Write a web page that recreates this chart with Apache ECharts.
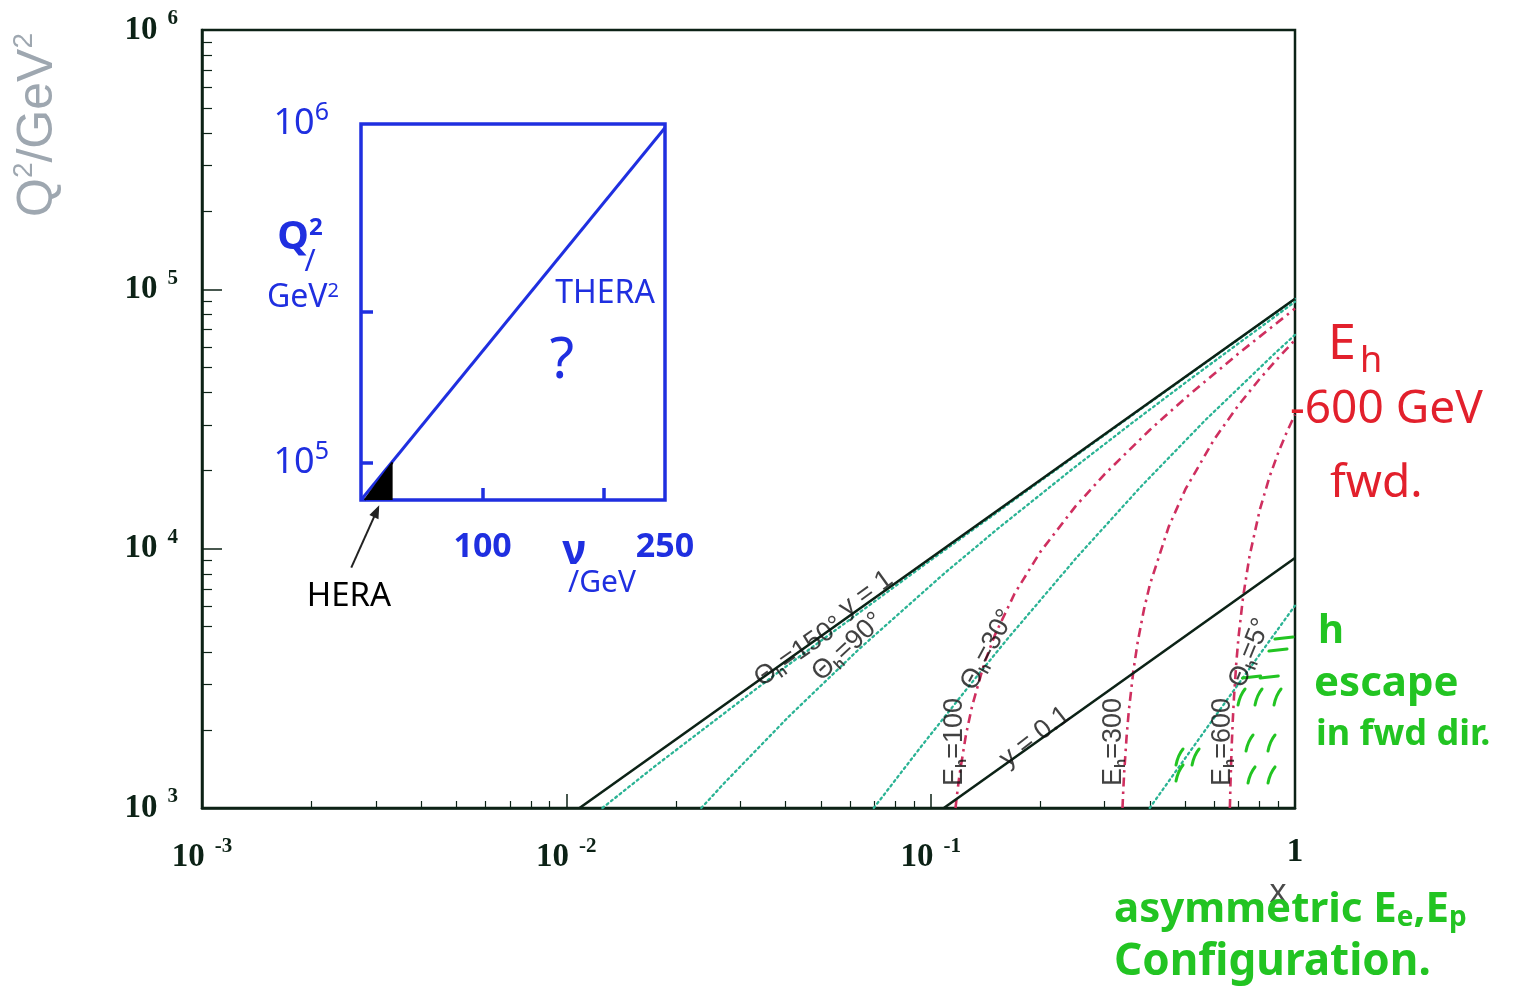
<!DOCTYPE html>
<html><head><meta charset="utf-8">
<script src="https://cdn.jsdelivr.net/npm/echarts@6/dist/echarts.min.js"></script>
<style>html,body{margin:0;padding:0;background:#fff}#c{width:1513px;height:987px}</style>
</head><body><div id="c"></div>
<script>
// ---- tick data ----
const xMajorExps = [-3, -2, -1, 0];
const yMajorExps = [3, 4, 5, 6];
const minorMantissas = [2, 3, 4, 5, 6, 7, 8, 9];

// ---- kinematic lines (x, Q^2/GeV^2) ----
const lineY1  = [[0.01087, 1000], [1, 92000]];
const lineY01 = [[0.1087, 1000], [1, 9200]];

const theta150 = [[0.01256, 1000], [0.01756, 1454], [0.03707, 3240], [0.0956, 8619], [0.1931, 17590], [0.3882, 35540], [0.9735, 89380], [1, 91820]];
const theta90  = [[0.02346, 1000], [0.02717, 1250], [0.04076, 2250], [0.0634, 4083], [0.1087, 8000], [0.154, 12042], [0.2446, 20250], [0.361, 30889], [0.5163, 45120], [1, 89570]];
const theta30  = [[0.0698, 1000], [0.0946, 1741], [0.1262, 2902], [0.1622, 4477], [0.2523, 9285], [0.3785, 17410], [0.5677, 31338], [0.8831, 56873], [1, 66741]];
const theta5   = [[0.3992, 1000], [0.4409, 1217], [0.517, 1665], [0.594, 2186], [0.7503, 3451], [0.9099, 5023], [1, 6031]];

const eh100 = [[0.1170, 1000], [0.118, 1112], [0.12, 1344], [0.125, 1917], [0.13, 2478], [0.14, 3574], [0.15, 4641], [0.17, 6713], [0.2, 9721], [0.25, 14585], [0.3, 19353], [0.4, 28753], [0.5, 38069], [0.7, 56597], [1, 84291]];
const eh300 = [[0.3361, 1000], [0.338, 1192], [0.34, 1391], [0.345, 1889], [0.35, 2385], [0.36, 3375], [0.37, 4360], [0.385, 5832], [0.4, 7296], [0.45, 12133], [0.5, 16920], [0.6, 26396], [0.7, 35790], [0.8, 45133], [0.9, 54444], [1, 63730]];
const eh600 = [[0.6626, 1000], [0.665, 1230], [0.67, 1709], [0.675, 2188], [0.68, 2667], [0.69, 3623], [0.7, 4578], [0.72, 6485], [0.75, 9339], [0.8, 14078], [0.85, 18800], [0.9, 23510], [0.95, 28210], [1, 32890]];

// hand-drawn green hatch strokes (centres, x / Q^2)
const hatchFlat = [[0.9328, 4524], [0.8982, 4068], [0.76, 3200], [0.85, 3200]];
const hatchSlanted = [[0.7155, 2679], [0.7966, 2679], [0.8982, 2679], [0.7526, 1781], [0.8648, 1781],
  [0.7621, 1341], [0.8648, 1341], [0.4835, 1573], [0.5351, 1573], [0.4835, 1365]];

// curve labels: text, position (x, Q^2), angle
const curveLabels = [
  { t: '{a|Θ}{u|h}{a|=150°}', x: 0.0435, q: 4000, r: 35 },
  { t: '{a|y = 1}', x: 0.0665, q: 6700, r: 36 },
  { t: '{a|Θ}{u|h}{a|=90°}', x: 0.0593, q: 4177, r: 43 },
  { t: '{a|E}{u|h}{a|=100}', x: 0.1166, q: 1797, r: 90 },
  { t: '{a|Θ}{u|h}{a|=30°}', x: 0.1437, q: 4068, r: 62 },
  { t: '{a|y = 0.1}', x: 0.1934, q: 1879, r: 38 },
  { t: '{a|E}{u|h}{a|=300}', x: 0.3185, q: 1797, r: 90 },
  { t: '{a|E}{u|h}{a|=600}', x: 0.6344, q: 1797, r: 90 },
  { t: '{a|Θ}{u|h}{a|=5°}', x: 0.7526, q: 3960, r: 68 }
];

// ---- inset (hand-drawn) ----
const insetX = [0, 250];
const insetY = [0, 1000000];
const insetLine = [[0, 0], [250, 990000]];
const heraArea = [[3, 0], [26, 100000]];
const heraArrow = [[-8, -180000, 15, -14000]];
const insetXTicks = [100, 200];
const insetXLabels = [100, 250];
const insetYTicks = [100000, 500000];
const insetYLabels = [100000, 1000000];

const xMinor = [], yMinor = [];
xMajorExps.slice(0, -1).forEach(e => minorMantissas.forEach(m => xMinor.push(+(m * Math.pow(10, e)).toPrecision(3))));
yMajorExps.slice(0, -1).forEach(e => minorMantissas.forEach(m => yMinor.push(+(m * Math.pow(10, e)).toPrecision(3))));

const DARK = '#0c2216';
const BLUE = '#1f2fe0';
const RED = '#e2202c';
const GREEN = '#22c422';
const TEAL = '#2ab394';
const CRIMSON = '#cf2f5f';

const tickRich = {
  b: { fontFamily: 'Liberation Serif', fontWeight: 'bold', fontSize: 33, color: DARK },
  s: { fontFamily: 'Liberation Serif', fontWeight: 'bold', fontSize: 21, color: DARK, padding: [0, 0, 22, 10] }
};
function expLabel(v) {
  const e = Math.round(Math.log10(v));
  return e === 0 ? '{b|1}' : '{b|10}{s|' + e + '}';
}

const chart = echarts.init(document.getElementById('c'), null, { renderer: 'canvas' });
const hwFont = 'Noto Sans';

function thetaSeries(data) {
  return { type: 'line', xAxisIndex: 0, yAxisIndex: 0, data, symbol: 'none', silent: true,
    lineStyle: { color: TEAL, width: 2.3, type: [2, 3.5], cap: 'round' }, z: 3 };
}
function ehSeries(data) {
  return { type: 'line', xAxisIndex: 0, yAxisIndex: 0, data, symbol: 'none', silent: true,
    lineStyle: { color: CRIMSON, width: 2.6, type: [9, 5, 2.5, 5] }, z: 3 };
}

const option = {
  backgroundColor: '#fff',
  animation: false,
  grid: [
    { left: 202, top: 30, width: 1093, height: 778, show: true, borderColor: DARK, borderWidth: 2.5, backgroundColor: 'transparent', outerBoundsMode: 'none', containLabel: false },
    { left: 361, top: 124, width: 304, height: 376, show: true, borderColor: BLUE, borderWidth: 3.5, backgroundColor: 'transparent', outerBoundsMode: 'none', containLabel: false }
  ],
  xAxis: [
    { type: 'log', logBase: 10, gridIndex: 0, min: 0.001, max: 1, position: 'bottom',
      axisLine: { show: true, lineStyle: { color: DARK, width: 2.5 } },
      axisTick: { show: true, inside: true, length: 14, lineStyle: { color: DARK, width: 1.5 } },
      axisLabel: { show: true, margin: 28, formatter: expLabel, rich: tickRich },
      splitLine: { show: false }, minorTick: { show: false } },
    { type: 'log', logBase: 10, gridIndex: 0, min: 0.001, max: 1, position: 'bottom',
      axisLine: { show: false }, axisLabel: { show: false }, splitLine: { show: false },
      axisTick: { show: true, inside: true, length: 7, customValues: xMinor, lineStyle: { color: DARK, width: 1.2 } } },
    { type: 'value', gridIndex: 1, min: insetX[0], max: insetX[1], position: 'bottom',
      axisLine: { show: false }, splitLine: { show: false },
      axisTick: { show: true, inside: true, length: 12, customValues: insetXTicks, lineStyle: { color: BLUE, width: 3.5 } },
      axisLabel: { show: true, margin: 30, customValues: insetXLabels, color: BLUE, fontFamily: hwFont, fontWeight: 'bold', fontSize: 34 } }
  ],
  yAxis: [
    { type: 'log', logBase: 10, gridIndex: 0, min: 1000, max: 1000000, position: 'left',
      axisLine: { show: true, lineStyle: { color: DARK, width: 2.5 } },
      axisTick: { show: true, inside: true, length: 20, lineStyle: { color: DARK, width: 1.5 } },
      axisLabel: { show: true, margin: 24, formatter: expLabel, rich: tickRich },
      splitLine: { show: false }, minorTick: { show: false } },
    { type: 'log', logBase: 10, gridIndex: 0, min: 1000, max: 1000000, position: 'left',
      axisLine: { show: false }, axisLabel: { show: false }, splitLine: { show: false },
      axisTick: { show: true, inside: true, length: 10, customValues: yMinor, lineStyle: { color: DARK, width: 1.2 } } },
    { type: 'value', gridIndex: 1, min: insetY[0], max: insetY[1], position: 'left',
      axisLine: { show: false }, splitLine: { show: false },
      axisTick: { show: true, inside: true, length: 12, customValues: insetYTicks, lineStyle: { color: BLUE, width: 3.5 } },
      axisLabel: { show: true, margin: 32, customValues: insetYLabels,
        formatter: v => '{b|10}{s|' + Math.round(Math.log10(v)) + '}',
        rich: { b: { color: BLUE, fontFamily: hwFont, fontSize: 36 }, s: { color: BLUE, fontFamily: hwFont, fontSize: 25, padding: [0, 0, 22, 0] } } } }
  ],
  series: [
    thetaSeries(theta150), thetaSeries(theta90), thetaSeries(theta30), thetaSeries(theta5),
    ehSeries(eh100), ehSeries(eh300), ehSeries(eh600),
    { type: 'line', xAxisIndex: 0, yAxisIndex: 0, data: lineY1, symbol: 'none', silent: true, lineStyle: { color: DARK, width: 2.6 }, z: 4 },
    { type: 'line', xAxisIndex: 0, yAxisIndex: 0, data: lineY01, symbol: 'none', silent: true, lineStyle: { color: DARK, width: 2.6 }, z: 4 },
    { type: 'scatter', xAxisIndex: 0, yAxisIndex: 0, symbolSize: 0, silent: true, z: 6,
      data: curveLabels.map(l => ({ value: [l.x, l.q], label: { rotate: l.r, formatter: l.t } })),
      label: { show: true, position: 'inside', rich: {
        a: { fontFamily: 'Liberation Sans', fontSize: 27, color: '#111' },
        u: { fontFamily: 'Liberation Sans', fontWeight: 'bold', fontSize: 15, color: '#111', padding: [14, 0, 0, 0] } } } },
    { type: 'custom', xAxisIndex: 0, yAxisIndex: 0, silent: true, z: 5, data: hatchSlanted,
      renderItem: (p, api) => { const c = api.coord([api.value(0), api.value(1)]);
        return { type: 'bezierCurve', shape: { x1: c[0] - 4, y1: c[1] + 8, cpx1: c[0] - 2, cpy1: c[1] - 2, x2: c[0] + 3, y2: c[1] - 8 },
          style: { stroke: GREEN, lineWidth: 3, fill: null, lineCap: 'round' } }; } },
    { type: 'custom', xAxisIndex: 0, yAxisIndex: 0, silent: true, z: 5, data: hatchFlat,
      renderItem: (p, api) => { const c = api.coord([api.value(0), api.value(1)]);
        return { type: 'line', shape: { x1: c[0] - 9, y1: c[1] + 1, x2: c[0] + 9, y2: c[1] - 1 },
          style: { stroke: GREEN, lineWidth: 3, lineCap: 'round' } }; } },
    // inset
    { type: 'line', xAxisIndex: 2, yAxisIndex: 2, data: insetLine, symbol: 'none', silent: true, lineStyle: { color: BLUE, width: 3 } },
    { type: 'line', xAxisIndex: 2, yAxisIndex: 2, data: heraArea, symbol: 'none', silent: true,
      lineStyle: { color: '#000', width: 2 }, areaStyle: { color: '#000', opacity: 1 } },
    { type: 'custom', xAxisIndex: 2, yAxisIndex: 2, silent: true, clip: false, data: heraArrow,
      renderItem: (p, api) => {
        const a = api.coord([api.value(0), api.value(1)]), b = api.coord([api.value(2), api.value(3)]);
        const dx = b[0] - a[0], dy = b[1] - a[1], L = Math.hypot(dx, dy), ux = dx / L, uy = dy / L;
        const h = 13, w = 5;
        return { type: 'group', children: [
          { type: 'line', shape: { x1: a[0], y1: a[1], x2: b[0] - ux * h * 0.7, y2: b[1] - uy * h * 0.7 }, style: { stroke: '#222', lineWidth: 2 } },
          { type: 'polygon', shape: { points: [[b[0], b[1]], [b[0] - ux * h - uy * w, b[1] - uy * h + ux * w], [b[0] - ux * h + uy * w, b[1] - uy * h - ux * w]] }, style: { fill: '#222' } }
        ] };
      } }
  ],
  graphic: [
    { type: 'text', x: 38, y: 125, rotation: Math.PI / 2, silent: true,
      style: { text: '{a|Q}{s|2}{a|/GeV}{s|2}', align: 'center', verticalAlign: 'middle',
        rich: { a: { fontFamily: 'Liberation Sans', fontSize: 50, fill: '#9ea7b0' },
                s: { fontFamily: 'Liberation Sans', fontSize: 28, fill: '#9ea7b0', padding: [0, 0, 28, 0] } } } },
    { type: 'text', x: 1278, y: 893, silent: true, style: { text: 'x', fontFamily: 'Liberation Sans', fontSize: 34, fill: '#4a4a4a', align: 'center', verticalAlign: 'middle' } },
    // red notes
    { type: 'text', x: 1328, y: 345, silent: true, style: { text: 'E', fontFamily: hwFont, fontSize: 50, fill: RED, verticalAlign: 'middle' } },
    { type: 'text', x: 1360, y: 362, silent: true, style: { text: 'h', fontFamily: hwFont, fontSize: 36, fill: RED, verticalAlign: 'middle' } },
    { type: 'text', x: 1290, y: 410, silent: true, style: { text: '-600 GeV', fontFamily: hwFont, fontSize: 46, fill: RED, verticalAlign: 'middle' } },
    { type: 'text', x: 1330, y: 484, silent: true, style: { text: 'fwd.', fontFamily: hwFont, fontSize: 46, fill: RED, verticalAlign: 'middle' } },
    // green notes
    { type: 'text', x: 1318, y: 632, silent: true, style: { text: 'h', fontFamily: hwFont, fontWeight: 'bold', fontSize: 40, fill: GREEN, verticalAlign: 'middle' } },
    { type: 'text', x: 1314, y: 684, silent: true, style: { text: 'escape', fontFamily: hwFont, fontWeight: 'bold', fontSize: 42, fill: GREEN, verticalAlign: 'middle' } },
    { type: 'text', x: 1316, y: 735, silent: true, style: { text: 'in fwd dir.', fontFamily: hwFont, fontWeight: 'bold', fontSize: 36, fill: GREEN, verticalAlign: 'middle' } },
    { type: 'text', x: 1114, y: 910, silent: true, style: { text: '{a|asymmetric E}{u|e}{a|,E}{u|p}', verticalAlign: 'middle',
        rich: { a: { fontFamily: hwFont, fontWeight: 'bold', fontSize: 42, fill: GREEN }, u: { fontFamily: hwFont, fontWeight: 'bold', fontSize: 28, fill: GREEN, padding: [16, 0, 0, 0] } } } },
    { type: 'text', x: 1114, y: 962, silent: true, style: { text: 'Configuration.', fontFamily: hwFont, fontWeight: 'bold', fontSize: 44, fill: GREEN, verticalAlign: 'middle' } },
    // inset notes
    { type: 'text', x: 300, y: 238, silent: true, style: { text: '{a|Q}{s|2}', align: 'center', verticalAlign: 'middle',
        rich: { a: { fontFamily: hwFont, fontWeight: 'bold', fontSize: 40, fill: BLUE }, s: { fontFamily: hwFont, fontWeight: 'bold', fontSize: 24, fill: BLUE, padding: [0, 0, 20, 0] } } } },
    { type: 'text', x: 310, y: 262, silent: true, style: { text: '/', fontFamily: hwFont, fontSize: 30, fill: BLUE, align: 'center', verticalAlign: 'middle' } },
    { type: 'text', x: 303, y: 298, silent: true, style: { text: '{a|GeV}{s|2}', align: 'center', verticalAlign: 'middle',
        rich: { a: { fontFamily: hwFont, fontSize: 32, fill: BLUE }, s: { fontFamily: hwFont, fontSize: 20, fill: BLUE, padding: [0, 0, 14, 0] } } } },
    { type: 'text', x: 605, y: 294, silent: true, style: { text: 'THERA', fontFamily: hwFont, fontSize: 32, fill: BLUE, align: 'center', verticalAlign: 'middle' } },
    { type: 'text', x: 562, y: 362, silent: true, style: { text: '?', fontFamily: hwFont, fontSize: 56, fill: BLUE, align: 'center', verticalAlign: 'middle' } },
    { type: 'text', x: 574, y: 552, silent: true, style: { text: 'ν', fontFamily: hwFont, fontWeight: 'bold', fontSize: 42, fill: BLUE, align: 'center', verticalAlign: 'middle' } },
    { type: 'text', x: 568, y: 583, silent: true, style: { text: '/GeV', fontFamily: hwFont, fontSize: 30, fill: BLUE, verticalAlign: 'middle' } },
    { type: 'text', x: 349, y: 597, silent: true, style: { text: 'HERA', fontFamily: hwFont, fontSize: 33, fill: '#000', align: 'center', verticalAlign: 'middle' } }
  ]
};
chart.setOption(option);
</script>
</body></html>
